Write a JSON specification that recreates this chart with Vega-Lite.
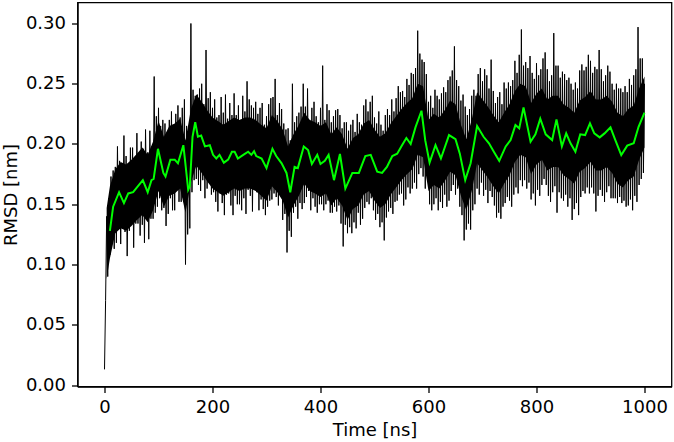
{
  "$schema": "https://vega.github.io/schema/vega-lite/v6.json",
  "width": 594,
  "height": 384,
  "autosize": {"type": "none"},
  "padding": {"left": 77.5, "top": 2.5, "right": 2.5, "bottom": 55.5},
  "background": "white",
  "config": {
    "view": {"stroke": "black", "strokeWidth": 1.3},
    "font": "DejaVu Sans",
    "axis": {
      "domainColor": "black", "domainWidth": 1.3, "tickColor": "black", "tickWidth": 1.3, "tickSize": 6,
      "labelColor": "black", "labelFont": "DejaVu Sans", "labelFontSize": 18, "labelPadding": 6,
      "titleColor": "black", "titleFont": "DejaVu Sans", "titleFontSize": 18, "titleFontWeight": "normal",
      "grid": false
    }
  },
  "datasets": {
    "raw": [
{"t":0,"r":0.013},{"t":2,"r":0.070},{"t":4,"r":0.140},{"t":6,"r":0.090},{"t":8,"r":0.155},
{"t":10,"r":0.108},{"t":12,"r":0.173},{"t":14,"r":0.118},{"t":16,"r":0.178},{"t":18,"r":0.113},
{"t":20,"r":0.181},{"t":22,"r":0.118},{"t":24,"r":0.198},{"t":26,"r":0.131},{"t":28,"r":0.186},
{"t":30,"r":0.117},{"t":32,"r":0.182},{"t":34,"r":0.139},{"t":36,"r":0.207},{"t":38,"r":0.127},
{"t":40,"r":0.190},{"t":42,"r":0.107},{"t":44,"r":0.175},{"t":46,"r":0.128},{"t":48,"r":0.197},
{"t":50,"r":0.137},{"t":52,"r":0.197},{"t":54,"r":0.114},{"t":56,"r":0.189},{"t":58,"r":0.134},
{"t":60,"r":0.209},{"t":62,"r":0.134},{"t":64,"r":0.189},{"t":66,"r":0.124},{"t":68,"r":0.202},
{"t":70,"r":0.133},{"t":72,"r":0.196},{"t":74,"r":0.118},{"t":76,"r":0.212},{"t":78,"r":0.148},
{"t":80,"r":0.193},{"t":82,"r":0.121},{"t":84,"r":0.211},{"t":86,"r":0.138},{"t":88,"r":0.198},
{"t":90,"r":0.138},{"t":92,"r":0.256},{"t":94,"r":0.143},{"t":96,"r":0.223},{"t":98,"r":0.148},
{"t":100,"r":0.230},{"t":102,"r":0.155},{"t":104,"r":0.215},{"t":106,"r":0.145},{"t":108,"r":0.220},
{"t":110,"r":0.147},{"t":112,"r":0.217},{"t":114,"r":0.132},{"t":116,"r":0.205},{"t":118,"r":0.142},
{"t":120,"r":0.220},{"t":122,"r":0.155},{"t":124,"r":0.227},{"t":126,"r":0.145},{"t":128,"r":0.210},
{"t":130,"r":0.145},{"t":132,"r":0.225},{"t":134,"r":0.162},{"t":136,"r":0.232},{"t":138,"r":0.152},
{"t":140,"r":0.222},{"t":142,"r":0.152},{"t":144,"r":0.230},{"t":146,"r":0.164},{"t":148,"r":0.237},
{"t":150,"r":0.100},{"t":152,"r":0.215},{"t":154,"r":0.125},{"t":156,"r":0.210},{"t":158,"r":0.130},
{"t":160,"r":0.300},{"t":162,"r":0.160},{"t":164,"r":0.245},{"t":166,"r":0.170},{"t":168,"r":0.240},
{"t":170,"r":0.171},{"t":172,"r":0.241},{"t":174,"r":0.166},{"t":176,"r":0.246},{"t":178,"r":0.161},
{"t":180,"r":0.250},{"t":182,"r":0.170},{"t":184,"r":0.233},{"t":186,"r":0.155},{"t":188,"r":0.278},
{"t":190,"r":0.163},{"t":192,"r":0.238},{"t":194,"r":0.168},{"t":196,"r":0.243},{"t":198,"r":0.158},
{"t":200,"r":0.230},{"t":202,"r":0.160},{"t":204,"r":0.237},{"t":206,"r":0.152},{"t":208,"r":0.222},
{"t":210,"r":0.144},{"t":212,"r":0.224},{"t":214,"r":0.159},{"t":216,"r":0.239},{"t":218,"r":0.151},
{"t":220,"r":0.226},{"t":222,"r":0.141},{"t":224,"r":0.241},{"t":226,"r":0.158},{"t":228,"r":0.221},
{"t":230,"r":0.159},{"t":232,"r":0.234},{"t":234,"r":0.149},{"t":236,"r":0.224},{"t":238,"r":0.141},
{"t":240,"r":0.242},{"t":242,"r":0.157},{"t":244,"r":0.224},{"t":246,"r":0.150},{"t":248,"r":0.232},
{"t":250,"r":0.150},{"t":252,"r":0.220},{"t":254,"r":0.145},{"t":256,"r":0.240},{"t":258,"r":0.155},
{"t":260,"r":0.227},{"t":262,"r":0.142},{"t":264,"r":0.252},{"t":266,"r":0.162},{"t":268,"r":0.237},
{"t":270,"r":0.157},{"t":272,"r":0.232},{"t":274,"r":0.144},{"t":276,"r":0.230},{"t":278,"r":0.162},
{"t":280,"r":0.235},{"t":282,"r":0.160},{"t":284,"r":0.225},{"t":286,"r":0.145},{"t":288,"r":0.230},
{"t":290,"r":0.154},{"t":292,"r":0.234},{"t":294,"r":0.146},{"t":296,"r":0.216},{"t":298,"r":0.141},
{"t":300,"r":0.223},{"t":302,"r":0.148},{"t":304,"r":0.233},{"t":306,"r":0.153},{"t":308,"r":0.238},
{"t":310,"r":0.154},{"t":312,"r":0.239},{"t":314,"r":0.159},{"t":316,"r":0.254},{"t":318,"r":0.156},
{"t":320,"r":0.224},{"t":322,"r":0.149},{"t":324,"r":0.234},{"t":326,"r":0.157},{"t":328,"r":0.229},
{"t":330,"r":0.137},{"t":332,"r":0.217},{"t":334,"r":0.142},{"t":336,"r":0.212},{"t":338,"r":0.110},
{"t":340,"r":0.213},{"t":342,"r":0.128},{"t":344,"r":0.203},{"t":346,"r":0.123},{"t":348,"r":0.250},
{"t":350,"r":0.143},{"t":352,"r":0.218},{"t":354,"r":0.148},{"t":356,"r":0.223},{"t":358,"r":0.138},
{"t":360,"r":0.226},{"t":362,"r":0.151},{"t":364,"r":0.231},{"t":366,"r":0.146},{"t":368,"r":0.250},
{"t":370,"r":0.151},{"t":372,"r":0.231},{"t":374,"r":0.156},{"t":376,"r":0.246},{"t":378,"r":0.161},
{"t":380,"r":0.220},{"t":382,"r":0.145},{"t":384,"r":0.230},{"t":386,"r":0.155},{"t":388,"r":0.235},
{"t":390,"r":0.148},{"t":392,"r":0.223},{"t":394,"r":0.143},{"t":396,"r":0.218},{"t":398,"r":0.150},
{"t":400,"r":0.230},{"t":402,"r":0.150},{"t":404,"r":0.265},{"t":406,"r":0.145},{"t":408,"r":0.220},
{"t":410,"r":0.150},{"t":412,"r":0.233},{"t":414,"r":0.153},{"t":416,"r":0.228},{"t":418,"r":0.143},
{"t":420,"r":0.218},{"t":422,"r":0.143},{"t":424,"r":0.223},{"t":426,"r":0.148},{"t":428,"r":0.228},
{"t":430,"r":0.144},{"t":432,"r":0.229},{"t":434,"r":0.149},{"t":436,"r":0.224},{"t":438,"r":0.134},
{"t":440,"r":0.213},{"t":442,"r":0.115},{"t":444,"r":0.218},{"t":446,"r":0.133},{"t":448,"r":0.218},
{"t":450,"r":0.126},{"t":452,"r":0.211},{"t":454,"r":0.131},{"t":456,"r":0.216},{"t":458,"r":0.126},
{"t":460,"r":0.220},{"t":462,"r":0.135},{"t":464,"r":0.210},{"t":466,"r":0.130},{"t":468,"r":0.225},
{"t":470,"r":0.143},{"t":472,"r":0.218},{"t":474,"r":0.133},{"t":476,"r":0.216},{"t":478,"r":0.138},
{"t":480,"r":0.232},{"t":482,"r":0.147},{"t":484,"r":0.237},{"t":486,"r":0.152},{"t":488,"r":0.227},
{"t":490,"r":0.150},{"t":492,"r":0.235},{"t":494,"r":0.155},{"t":496,"r":0.240},{"t":498,"r":0.145},
{"t":500,"r":0.222},{"t":502,"r":0.137},{"t":504,"r":0.217},{"t":506,"r":0.142},{"t":508,"r":0.227},
{"t":510,"r":0.131},{"t":512,"r":0.216},{"t":514,"r":0.135},{"t":516,"r":0.211},{"t":518,"r":0.120},
{"t":520,"r":0.224},{"t":522,"r":0.139},{"t":524,"r":0.229},{"t":526,"r":0.144},{"t":528,"r":0.224},
{"t":530,"r":0.147},{"t":532,"r":0.237},{"t":534,"r":0.142},{"t":536,"r":0.227},{"t":538,"r":0.152},
{"t":540,"r":0.238},{"t":542,"r":0.153},{"t":544,"r":0.248},{"t":546,"r":0.158},{"t":548,"r":0.243},
{"t":550,"r":0.159},{"t":552,"r":0.244},{"t":554,"r":0.149},{"t":556,"r":0.239},{"t":558,"r":0.154},
{"t":560,"r":0.254},{"t":562,"r":0.164},{"t":564,"r":0.249},{"t":566,"r":0.159},{"t":568,"r":0.259},
{"t":570,"r":0.163},{"t":572,"r":0.258},{"t":574,"r":0.168},{"t":576,"r":0.263},{"t":578,"r":0.163},
{"t":580,"r":0.294},{"t":582,"r":0.175},{"t":584,"r":0.275},{"t":586,"r":0.180},{"t":588,"r":0.270},
{"t":590,"r":0.173},{"t":592,"r":0.268},{"t":594,"r":0.163},{"t":596,"r":0.258},{"t":598,"r":0.173},
{"t":600,"r":0.235},{"t":602,"r":0.150},{"t":604,"r":0.240},{"t":606,"r":0.145},{"t":608,"r":0.230},
{"t":610,"r":0.150},{"t":612,"r":0.245},{"t":614,"r":0.155},{"t":616,"r":0.240},{"t":618,"r":0.145},
{"t":620,"r":0.237},{"t":622,"r":0.152},{"t":624,"r":0.242},{"t":626,"r":0.147},{"t":628,"r":0.247},
{"t":630,"r":0.158},{"t":632,"r":0.243},{"t":634,"r":0.148},{"t":636,"r":0.253},{"t":638,"r":0.153},
{"t":640,"r":0.256},{"t":642,"r":0.161},{"t":644,"r":0.261},{"t":646,"r":0.166},{"t":648,"r":0.281},
{"t":650,"r":0.158},{"t":652,"r":0.253},{"t":654,"r":0.163},{"t":656,"r":0.248},{"t":658,"r":0.148},
{"t":660,"r":0.236},{"t":662,"r":0.141},{"t":664,"r":0.241},{"t":666,"r":0.120},{"t":668,"r":0.231},
{"t":670,"r":0.129},{"t":672,"r":0.224},{"t":674,"r":0.134},{"t":676,"r":0.229},{"t":678,"r":0.129},
{"t":680,"r":0.240},{"t":682,"r":0.145},{"t":684,"r":0.245},{"t":686,"r":0.150},{"t":688,"r":0.240},
{"t":690,"r":0.163},{"t":692,"r":0.258},{"t":694,"r":0.158},{"t":696,"r":0.263},{"t":698,"r":0.168},
{"t":700,"r":0.252},{"t":702,"r":0.157},{"t":704,"r":0.262},{"t":706,"r":0.162},{"t":708,"r":0.257},
{"t":710,"r":0.151},{"t":712,"r":0.246},{"t":714,"r":0.161},{"t":716,"r":0.270},{"t":718,"r":0.156},
{"t":720,"r":0.244},{"t":722,"r":0.149},{"t":724,"r":0.234},{"t":726,"r":0.139},{"t":728,"r":0.239},
{"t":730,"r":0.143},{"t":732,"r":0.243},{"t":734,"r":0.138},{"t":736,"r":0.233},{"t":738,"r":0.148},
{"t":740,"r":0.251},{"t":742,"r":0.151},{"t":744,"r":0.246},{"t":746,"r":0.156},{"t":748,"r":0.251},
{"t":750,"r":0.153},{"t":752,"r":0.248},{"t":754,"r":0.148},{"t":756,"r":0.253},{"t":758,"r":0.158},
{"t":760,"r":0.269},{"t":762,"r":0.164},{"t":764,"r":0.259},{"t":766,"r":0.159},{"t":768,"r":0.274},
{"t":770,"r":0.170},{"t":772,"r":0.295},{"t":774,"r":0.165},{"t":776,"r":0.265},{"t":778,"r":0.170},
{"t":780,"r":0.268},{"t":782,"r":0.163},{"t":784,"r":0.263},{"t":786,"r":0.168},{"t":788,"r":0.273},
{"t":790,"r":0.154},{"t":792,"r":0.259},{"t":794,"r":0.159},{"t":796,"r":0.254},{"t":798,"r":0.149},
{"t":800,"r":0.267},{"t":802,"r":0.162},{"t":804,"r":0.257},{"t":806,"r":0.157},{"t":808,"r":0.262},
{"t":810,"r":0.166},{"t":812,"r":0.271},{"t":814,"r":0.171},{"t":816,"r":0.276},{"t":818,"r":0.166},
{"t":820,"r":0.262},{"t":822,"r":0.157},{"t":824,"r":0.252},{"t":826,"r":0.152},{"t":828,"r":0.257},
{"t":830,"r":0.160},{"t":832,"r":0.292},{"t":834,"r":0.165},{"t":836,"r":0.265},{"t":838,"r":0.143},
{"t":840,"r":0.265},{"t":842,"r":0.160},{"t":844,"r":0.255},{"t":846,"r":0.155},{"t":848,"r":0.260},
{"t":850,"r":0.153},{"t":852,"r":0.258},{"t":854,"r":0.158},{"t":856,"r":0.253},{"t":858,"r":0.148},
{"t":860,"r":0.255},{"t":862,"r":0.155},{"t":864,"r":0.250},{"t":866,"r":0.137},{"t":868,"r":0.245},
{"t":870,"r":0.146},{"t":872,"r":0.251},{"t":874,"r":0.151},{"t":876,"r":0.246},{"t":878,"r":0.141},
{"t":880,"r":0.261},{"t":882,"r":0.156},{"t":884,"r":0.266},{"t":886,"r":0.161},{"t":888,"r":0.261},
{"t":890,"r":0.159},{"t":892,"r":0.264},{"t":894,"r":0.164},{"t":896,"r":0.274},{"t":898,"r":0.159},
{"t":900,"r":0.269},{"t":902,"r":0.164},{"t":904,"r":0.259},{"t":906,"r":0.159},{"t":908,"r":0.264},
{"t":910,"r":0.144},{"t":912,"r":0.262},{"t":914,"r":0.157},{"t":916,"r":0.278},{"t":918,"r":0.162},
{"t":920,"r":0.262},{"t":922,"r":0.157},{"t":924,"r":0.252},{"t":926,"r":0.152},{"t":928,"r":0.257},
{"t":930,"r":0.160},{"t":932,"r":0.265},{"t":934,"r":0.165},{"t":936,"r":0.260},{"t":938,"r":0.155},
{"t":940,"r":0.250},{"t":942,"r":0.155},{"t":944,"r":0.245},{"t":946,"r":0.155},{"t":948,"r":0.250},
{"t":950,"r":0.151},{"t":952,"r":0.246},{"t":954,"r":0.156},{"t":956,"r":0.246},{"t":958,"r":0.151},
{"t":960,"r":0.243},{"t":962,"r":0.153},{"t":964,"r":0.248},{"t":966,"r":0.148},{"t":968,"r":0.243},
{"t":970,"r":0.149},{"t":972,"r":0.254},{"t":974,"r":0.154},{"t":976,"r":0.249},{"t":978,"r":0.145},
{"t":980,"r":0.257},{"t":982,"r":0.157},{"t":984,"r":0.262},{"t":986,"r":0.152},{"t":988,"r":0.297},
{"t":990,"r":0.166},{"t":992,"r":0.271},{"t":994,"r":0.171},{"t":996,"r":0.271},{"t":998,"r":0.176},
{"t":1000,"r":0.250}
    ],
    "core": [
{"t":4,"lo":0.088,"hi":0.147},{"t":10,"lo":0.105,"hi":0.165},{"t":20,"lo":0.126,"hi":0.179},{"t":30,"lo":0.130,"hi":0.185},{"t":40,"lo":0.128,"hi":0.183},
{"t":50,"lo":0.132,"hi":0.187},{"t":60,"lo":0.137,"hi":0.192},{"t":70,"lo":0.141,"hi":0.197},{"t":80,"lo":0.135,"hi":0.191},{"t":90,"lo":0.145,"hi":0.202},
{"t":100,"lo":0.161,"hi":0.219},{"t":110,"lo":0.148,"hi":0.206},{"t":120,"lo":0.157,"hi":0.215},{"t":130,"lo":0.159,"hi":0.217},{"t":140,"lo":0.163,"hi":0.221},
{"t":150,"lo":0.143,"hi":0.203},{"t":160,"lo":0.168,"hi":0.229},{"t":170,"lo":0.182,"hi":0.241},{"t":180,"lo":0.176,"hi":0.235},{"t":190,"lo":0.169,"hi":0.228},
{"t":200,"lo":0.163,"hi":0.222},{"t":210,"lo":0.160,"hi":0.219},{"t":220,"lo":0.157,"hi":0.216},{"t":230,"lo":0.160,"hi":0.219},{"t":240,"lo":0.163,"hi":0.222},
{"t":250,"lo":0.161,"hi":0.220},{"t":260,"lo":0.163,"hi":0.222},{"t":270,"lo":0.163,"hi":0.222},{"t":280,"lo":0.161,"hi":0.220},{"t":290,"lo":0.157,"hi":0.216},
{"t":300,"lo":0.153,"hi":0.213},{"t":310,"lo":0.165,"hi":0.224},{"t":320,"lo":0.160,"hi":0.219},{"t":330,"lo":0.153,"hi":0.212},{"t":340,"lo":0.139,"hi":0.198},
{"t":350,"lo":0.149,"hi":0.208},{"t":360,"lo":0.157,"hi":0.216},{"t":370,"lo":0.167,"hi":0.226},{"t":380,"lo":0.161,"hi":0.220},{"t":390,"lo":0.159,"hi":0.218},
{"t":400,"lo":0.156,"hi":0.215},{"t":410,"lo":0.159,"hi":0.218},{"t":420,"lo":0.149,"hi":0.208},{"t":430,"lo":0.155,"hi":0.214},{"t":440,"lo":0.149,"hi":0.208},
{"t":450,"lo":0.137,"hi":0.196},{"t":460,"lo":0.146,"hi":0.205},{"t":470,"lo":0.149,"hi":0.208},{"t":480,"lo":0.158,"hi":0.217},{"t":490,"lo":0.161,"hi":0.220},
{"t":500,"lo":0.153,"hi":0.212},{"t":510,"lo":0.147,"hi":0.206},{"t":520,"lo":0.150,"hi":0.209},{"t":530,"lo":0.158,"hi":0.217},{"t":540,"lo":0.164,"hi":0.223},
{"t":550,"lo":0.170,"hi":0.229},{"t":560,"lo":0.175,"hi":0.234},{"t":570,"lo":0.179,"hi":0.238},{"t":580,"lo":0.191,"hi":0.250},{"t":590,"lo":0.189,"hi":0.248},
{"t":600,"lo":0.161,"hi":0.220},{"t":610,"lo":0.166,"hi":0.225},{"t":620,"lo":0.163,"hi":0.222},{"t":630,"lo":0.169,"hi":0.228},{"t":640,"lo":0.177,"hi":0.236},
{"t":650,"lo":0.174,"hi":0.233},{"t":660,"lo":0.157,"hi":0.216},{"t":670,"lo":0.145,"hi":0.204},{"t":680,"lo":0.161,"hi":0.220},{"t":690,"lo":0.184,"hi":0.243},
{"t":700,"lo":0.178,"hi":0.237},{"t":710,"lo":0.172,"hi":0.231},{"t":720,"lo":0.165,"hi":0.224},{"t":730,"lo":0.159,"hi":0.218},{"t":740,"lo":0.167,"hi":0.226},
{"t":750,"lo":0.174,"hi":0.233},{"t":760,"lo":0.185,"hi":0.244},{"t":770,"lo":0.191,"hi":0.250},{"t":780,"lo":0.189,"hi":0.248},{"t":790,"lo":0.175,"hi":0.234},
{"t":800,"lo":0.183,"hi":0.242},{"t":810,"lo":0.187,"hi":0.246},{"t":820,"lo":0.178,"hi":0.237},{"t":830,"lo":0.181,"hi":0.240},{"t":840,"lo":0.181,"hi":0.240},
{"t":850,"lo":0.174,"hi":0.233},{"t":860,"lo":0.171,"hi":0.230},{"t":870,"lo":0.167,"hi":0.226},{"t":880,"lo":0.177,"hi":0.236},{"t":890,"lo":0.180,"hi":0.239},
{"t":900,"lo":0.185,"hi":0.244},{"t":910,"lo":0.178,"hi":0.237},{"t":920,"lo":0.178,"hi":0.237},{"t":930,"lo":0.181,"hi":0.240},{"t":940,"lo":0.176,"hi":0.235},
{"t":950,"lo":0.167,"hi":0.226},{"t":960,"lo":0.164,"hi":0.223},{"t":970,"lo":0.170,"hi":0.229},{"t":980,"lo":0.173,"hi":0.232},{"t":990,"lo":0.187,"hi":0.246},
{"t":1000,"lo":0.197,"hi":0.256}
    ],
    "smooth": [
{"t":10,"r":0.128},{"t":16,"r":0.148},{"t":27,"r":0.160},{"t":36,"r":0.151},{"t":44,"r":0.159},{"t":53,"r":0.160},{"t":62,"r":0.165},{"t":71,"r":0.170},{"t":80,"r":0.160},{"t":87,"r":0.170},{"t":91,"r":0.171},{"t":99,"r":0.196},{"t":109,"r":0.176},{"t":113,"r":0.173},{"t":122,"r":0.187},{"t":130,"r":0.187},{"t":136,"r":0.184},{"t":146,"r":0.199},{"t":149,"r":0.187},{"t":155,"r":0.162},{"t":158,"r":0.165},{"t":163,"r":0.206},{"t":168,"r":0.218},{"t":173,"r":0.206},{"t":179,"r":0.207},{"t":186,"r":0.198},{"t":195,"r":0.199},{"t":201,"r":0.191},{"t":207,"r":0.188},{"t":213,"r":0.191},{"t":221,"r":0.1845},{"t":229,"r":0.187},{"t":236,"r":0.1936},{"t":241,"r":0.1936},{"t":247,"r":0.188},{"t":257,"r":0.191},{"t":266,"r":0.1936},{"t":272,"r":0.191},{"t":277,"r":0.194},{"t":281,"r":0.190},{"t":291,"r":0.188},{"t":300,"r":0.180},{"t":311,"r":0.196},{"t":318,"r":0.190},{"t":328,"r":0.184},{"t":337,"r":0.176},{"t":344,"r":0.160},{"t":352,"r":0.181},{"t":358,"r":0.180},{"t":369,"r":0.198},{"t":377,"r":0.195},{"t":384,"r":0.1834},{"t":394,"r":0.191},{"t":400,"r":0.1834},{"t":408,"r":0.186},{"t":415,"r":0.191},{"t":425,"r":0.170},{"t":436,"r":0.1917},{"t":446,"r":0.163},{"t":459,"r":0.176},{"t":471,"r":0.176},{"t":483,"r":0.190},{"t":493,"r":0.191},{"t":505,"r":0.177},{"t":514,"r":0.176},{"t":523,"r":0.181},{"t":533,"r":0.190},{"t":542,"r":0.192},{"t":551,"r":0.199},{"t":559,"r":0.205},{"t":567,"r":0.200},{"t":576,"r":0.214},{"t":587,"r":0.2276},{"t":594,"r":0.203},{"t":602,"r":0.1845},{"t":613,"r":0.199},{"t":623,"r":0.188},{"t":638,"r":0.2074},{"t":650,"r":0.204},{"t":658,"r":0.192},{"t":668,"r":0.170},{"t":678,"r":0.184},{"t":690,"r":0.2149},{"t":702,"r":0.206},{"t":712,"r":0.2006},{"t":721,"r":0.1936},{"t":731,"r":0.186},{"t":743,"r":0.198},{"t":752,"r":0.2033},{"t":761,"r":0.2157},{"t":768,"r":0.213},{"t":776,"r":0.2304},{"t":789,"r":0.2019},{"t":798,"r":0.208},{"t":807,"r":0.221},{"t":817,"r":0.208},{"t":829,"r":0.2033},{"t":837,"r":0.2204},{"t":847,"r":0.198},{"t":855,"r":0.2088},{"t":863,"r":0.2006},{"t":872,"r":0.1936},{"t":881,"r":0.208},{"t":890,"r":0.2074},{"t":899,"r":0.2171},{"t":907,"r":0.2088},{"t":917,"r":0.2055},{"t":926,"r":0.2088},{"t":937,"r":0.2138},{"t":946,"r":0.2033},{"t":957,"r":0.1908},{"t":968,"r":0.1986},{"t":980,"r":0.2006},{"t":989,"r":0.2143},{"t":1000,"r":0.226}
    ]
  },
  "layer": [
    {"data": {"name": "core"}, "mark": {"type": "area", "color": "black", "opacity": 1, "clip": true},
      "encoding": {
        "x": {"field": "t", "type": "quantitative", "scale": {"domain": [-50, 1050], "nice": false, "zero": false},
          "axis": {"title": "Time [ns]", "values": [0, 200, 400, 600, 800, 1000], "format": "d", "titlePadding": 5}},
        "y": {"field": "lo", "type": "quantitative", "scale": {"domain": [-0.0012, 0.3174], "nice": false, "zero": false},
          "axis": {"title": "RMSD [nm]", "values": [0, 0.05, 0.1, 0.15, 0.2, 0.25, 0.3], "format": ".2f", "titlePadding": 5}},
        "y2": {"field": "hi"}
      }},
    {"data": {"name": "raw"}, "mark": {"type": "line", "color": "black", "strokeWidth": 1.0, "clip": true},
      "encoding": {"x": {"field": "t", "type": "quantitative"}, "y": {"field": "r", "type": "quantitative"}}},
    {"data": {"name": "smooth"}, "mark": {"type": "line", "color": "#00ff00", "strokeWidth": 2, "clip": true},
      "encoding": {"x": {"field": "t", "type": "quantitative"}, "y": {"field": "r", "type": "quantitative"}}}
  ]
}
